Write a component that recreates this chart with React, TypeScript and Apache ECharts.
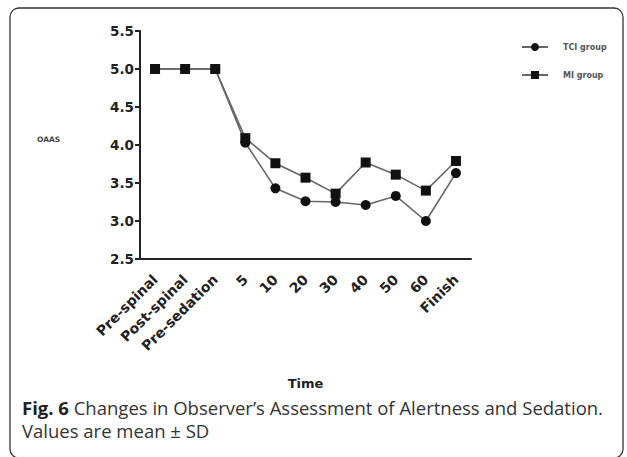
import React, { useEffect, useRef } from "react";
import * as echarts from "echarts";

const categories = ["Pre-spinal", "Post-spinal", "Pre-sedation", "5", "10", "20", "30", "40", "50", "60", "Finish"];
const tciGroup = [5.0, 5.0, 5.0, 4.03, 3.43, 3.26, 3.25, 3.21, 3.33, 3.0, 3.63];
const miGroup = [5.0, 5.0, 5.0, 4.09, 3.76, 3.57, 3.36, 3.77, 3.61, 3.4, 3.79];
const yMin = 2.5;
const yMax = 5.5;
const yInterval = 0.5;

export default function App() {
  const ref = useRef<HTMLDivElement>(null);
  useEffect(() => {
    document.body.style.margin = "0";
    if (!ref.current) return;
    const chart = echarts.init(ref.current, null, { renderer: "svg" });
    const axisFont = "DejaVu Sans";
    chart.setOption({
      animation: false,
      backgroundColor: "#fff",
      grid: { left: 140, right: 156, top: 31, bottom: 198, containLabel: false },
      legend: {
        orient: "vertical",
        left: 516,
        top: 38,
        itemWidth: 26,
        itemHeight: 10,
        itemGap: 20,
        data: ["TCI group", "MI group"],
        textStyle: { fontFamily: axisFont, fontWeight: "bold", fontSize: 8, color: "#555", padding: [0, 0, 0, 10] },
      },
      xAxis: {
        type: "category",
        data: categories,
        boundaryGap: true,
        name: "Time",
        nameLocation: "middle",
        nameGap: 118,
        nameTextStyle: { fontFamily: axisFont, fontWeight: "bold", fontSize: 13, color: "#222" },
        axisLine: { lineStyle: { color: "#222", width: 2 } },
        axisTick: { alignWithLabel: true, length: 5, lineStyle: { color: "#222", width: 2 } },
        axisLabel: { rotate: 45, fontFamily: axisFont, fontWeight: "bold", fontSize: 14, color: "#222", margin: 18 },
      },
      yAxis: {
        type: "value",
        min: yMin,
        max: yMax,
        interval: yInterval,
        splitLine: { show: false },
        axisLine: { show: true, lineStyle: { color: "#222", width: 2 } },
        axisTick: { show: true, length: 5, lineStyle: { color: "#222", width: 2 } },
        axisLabel: {
          fontFamily: axisFont,
          fontWeight: "bold",
          fontSize: 13.5,
          color: "#222",
          margin: 6,
          formatter: (v: number) => v.toFixed(1),
        },
      },
      series: [
        {
          name: "TCI group",
          type: "line",
          data: tciGroup,
          symbol: "circle",
          symbolSize: 10,
          lineStyle: { color: "#666", width: 1.6 },
          itemStyle: { color: "#111" },
        },
        {
          name: "MI group",
          type: "line",
          data: miGroup,
          symbol: "rect",
          symbolSize: 10,
          lineStyle: { color: "#666", width: 1.6 },
          itemStyle: { color: "#111" },
        },
      ],
      graphic: [
        {
          type: "rect",
          shape: { x: 10, y: 8, width: 613, height: 450, r: 9 },
          style: { fill: "none", stroke: "#333", lineWidth: 1.3 },
          silent: true,
        },
        {
          type: "text",
          x: 37,
          y: 135,
          style: { text: "OAAS", fontFamily: axisFont, fontWeight: "bold", fontSize: 7.5, fill: "#444" },
        },
        {
          type: "text",
          x: 22,
          y: 396,
          style: {
            text: "{b|Fig. 6} Changes in Observer’s Assessment of Alertness and Sedation.\nValues are mean ± SD",
            fontFamily: "Open Sans",
            fontSize: 18.5,
            lineHeight: 23,
            fill: "#333",
            rich: {
              b: { fontFamily: "Open Sans", fontSize: 18.5, fontWeight: "bold", fill: "#222", lineHeight: 23 },
            },
          },
        },
      ],
    });
    return () => chart.dispose();
  }, []);
  return <div ref={ref} style={{ width: 627, height: 457 }} />;
}
